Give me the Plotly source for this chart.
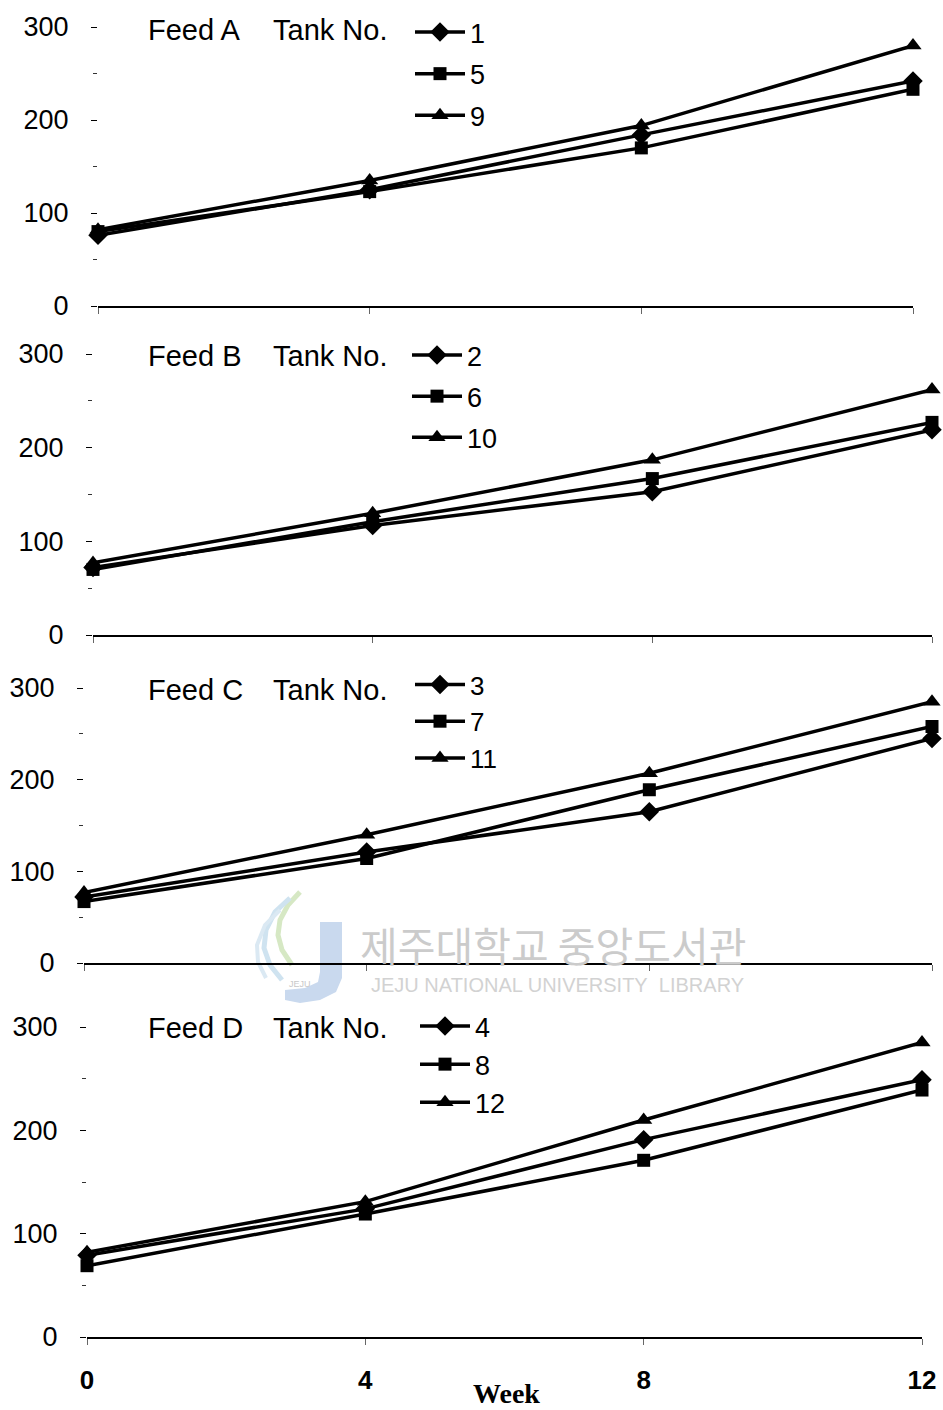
import plotly.graph_objects as go

W, H = 943, 1410

weeks = [0, 4, 8, 12]

feed_names = ["Feed A", "Feed B", "Feed C", "Feed D"]
tank_labels = [["1", "5", "9"], ["2", "6", "10"], ["3", "7", "11"], ["4", "8", "12"]]

# Body weight per tank over the trial (three tanks per feed)
feed_a = [[76, 125, 184, 242], [80, 123, 170, 233], [82, 135, 194, 280]]
feed_b = [[72, 117, 153, 219], [70, 121, 167, 227], [77, 130, 187, 262]]
feed_c = [[72, 121, 165, 245], [67, 114, 189, 258], [77, 140, 207, 285]]
feed_d = [[79, 124, 191, 249], [69, 119, 171, 239], [82, 131, 210, 285]]
feeds = [feed_a, feed_b, feed_c, feed_d]

y_ticks = [0, 100, 200, 300]

symbols = ["diamond", "square", "triangle-up"]
marker_sizes = [15, 13, 15]

# panel placement in pixels: (x of week 0, x of week 12, y of 300, y of 0)
panels = [(98, 913, 27, 306), (93, 932, 354, 635), (84, 932, 688, 963), (87, 922, 1027, 1337)]
# legend placement in pixels (left, top), row gap and font size
legend_pos = [(410, 8, 3.5, 27), (407, 331, 3, 27), (410, 661, 0, 26), (415, 1002, 0, 27)]
title_rows = [30, 356, 690, 1028]

def px(x):
    return x / W

def py(y):
    return 1 - y / H

FONT = "Liberation Sans, Arial, sans-serif"

fig = go.Figure()
layout = dict(
    width=W, height=H,
    margin=dict(l=0, r=0, t=0, b=0, autoexpand=False),
    paper_bgcolor="white", plot_bgcolor="white",
    showlegend=True,
    font=dict(family=FONT, color="black"),
)
annotations = []

for i, (feed, labels) in enumerate(zip(feeds, tank_labels)):
    n = "" if i == 0 else str(i + 1)
    xa, ya = "x" + n, "y" + n
    lg = "legend" + n
    for j, (vals, lab) in enumerate(zip(feed, labels)):
        fig.add_trace(go.Scatter(
            x=weeks, y=vals, name=lab, mode="lines+markers",
            xaxis=xa, yaxis=ya, legend=lg, legendgroup=f"{i}-{j}",
            line=dict(color="black", width=3.5),
            marker=dict(symbol=symbols[j], size=marker_sizes[j], color="black"),
            cliponaxis=False,
        ))
    x0, x12, y300, y0 = panels[i]
    last = i == 3
    layout["xaxis" + n] = dict(
        domain=[px(x0), px(x12)], range=[0, 12], anchor=ya,
        tickvals=weeks, ticktext=[str(w) for w in weeks],
        showticklabels=last, ticks="outside", ticklen=6, tickwidth=1, tickcolor="#666",
        tickfont=dict(family=FONT, size=26, weight="bold"), ticklabelstandoff=13,
        showline=True, linecolor="black", linewidth=1.5,
        showgrid=False, zeroline=False, fixedrange=True, automargin=False,
    )
    layout["yaxis" + n] = dict(
        domain=[py(y0), py(y300)], range=[0, 300], anchor=xa,
        tickvals=y_ticks, ticks="outside", ticklen=6, tickwidth=1, tickcolor="black",
        minor=dict(ticks="outside", ticklen=4, tickwidth=1, tickcolor="#333", dtick=50, showgrid=False),
        tickfont=dict(family=FONT, size=27), ticklabelstandoff=17,
        showline=False, showgrid=False, zeroline=False, fixedrange=True, automargin=False,
    )
    lx, ly, gap, fs = legend_pos[i]
    layout[lg] = dict(
        x=px(lx), y=py(ly), xanchor="left", yanchor="top",
        bgcolor="rgba(0,0,0,0)", borderwidth=0,
        font=dict(family=FONT, size=fs, color="black"),
        traceorder="grouped", tracegroupgap=gap, itemwidth=50,
    )
    ty = title_rows[i]
    annotations.append(dict(text=feed_names[i], x=px(146), y=py(ty), xref="paper", yref="paper",
                            xanchor="left", yanchor="middle", showarrow=False,
                            font=dict(family=FONT, size=29)))
    annotations.append(dict(text="Tank No.", x=px(271), y=py(ty), xref="paper", yref="paper",
                            xanchor="left", yanchor="middle", showarrow=False,
                            font=dict(family=FONT, size=29)))

annotations.append(dict(text="Week", x=px(506), y=py(1393), xref="paper", yref="paper",
                        xanchor="center", yanchor="middle", showarrow=False,
                        font=dict(family="Liberation Serif, Times New Roman, serif", size=28, weight="bold")))

# library watermark
annotations.append(dict(text="제주대학교 중앙도서관", x=px(553), y=py(944), xref="paper", yref="paper",
                        xanchor="center", yanchor="middle", showarrow=False,
                        font=dict(family="Noto Sans CJK KR", size=41, color="#cbcbcb")))
annotations.append(dict(text="JEJU NATIONAL UNIVERSITY\u00a0\u00a0LIBRARY", x=px(557), y=py(985),
                        xref="paper", yref="paper", xanchor="center", yanchor="middle", showarrow=False,
                        font=dict(family="Liberation Sans Narrow, Liberation Sans, Arial", size=20, color="#d2d2d2")))
annotations.append(dict(text="JEJU", x=px(300), y=py(984), xref="paper", yref="paper",
                        xanchor="center", yanchor="middle", showarrow=False,
                        font=dict(family=FONT, size=9, color="#c8c8c8")))

def path(points):
    return "M" + " L".join(f"{px(x):.5f},{py(y):.5f}" for x, y in points)

shapes = [
    # logo: J stroke and swooshes
    dict(type="path", xref="paper", yref="paper", layer="below",
         path=path([(320, 922), (342, 922), (342, 978), (336, 992), (320, 1000), (300, 1003),
                    (285, 1000), (285, 990), (305, 988), (318, 982), (320, 972)]) + " Z",
         fillcolor="#c9d9ee", line=dict(width=0)),
    dict(type="path", xref="paper", yref="paper", layer="below",
         path=path([(300, 892), (288, 905), (280, 920), (278, 935), (282, 950), (292, 965)]),
         line=dict(color="#d6e8c4", width=5)),
    dict(type="path", xref="paper", yref="paper", layer="below",
         path=path([(290, 898), (275, 912), (266, 930), (264, 948), (270, 965), (282, 980)]),
         line=dict(color="#cfe3f0", width=5)),
    dict(type="path", xref="paper", yref="paper", layer="below",
         path=path([(280, 910), (265, 925), (257, 945), (258, 962), (266, 978)]),
         line=dict(color="#dbe9f3", width=4)),
]

layout["annotations"] = annotations
layout["shapes"] = shapes
fig.update_layout(**layout)

fig.write_html("out.html")
